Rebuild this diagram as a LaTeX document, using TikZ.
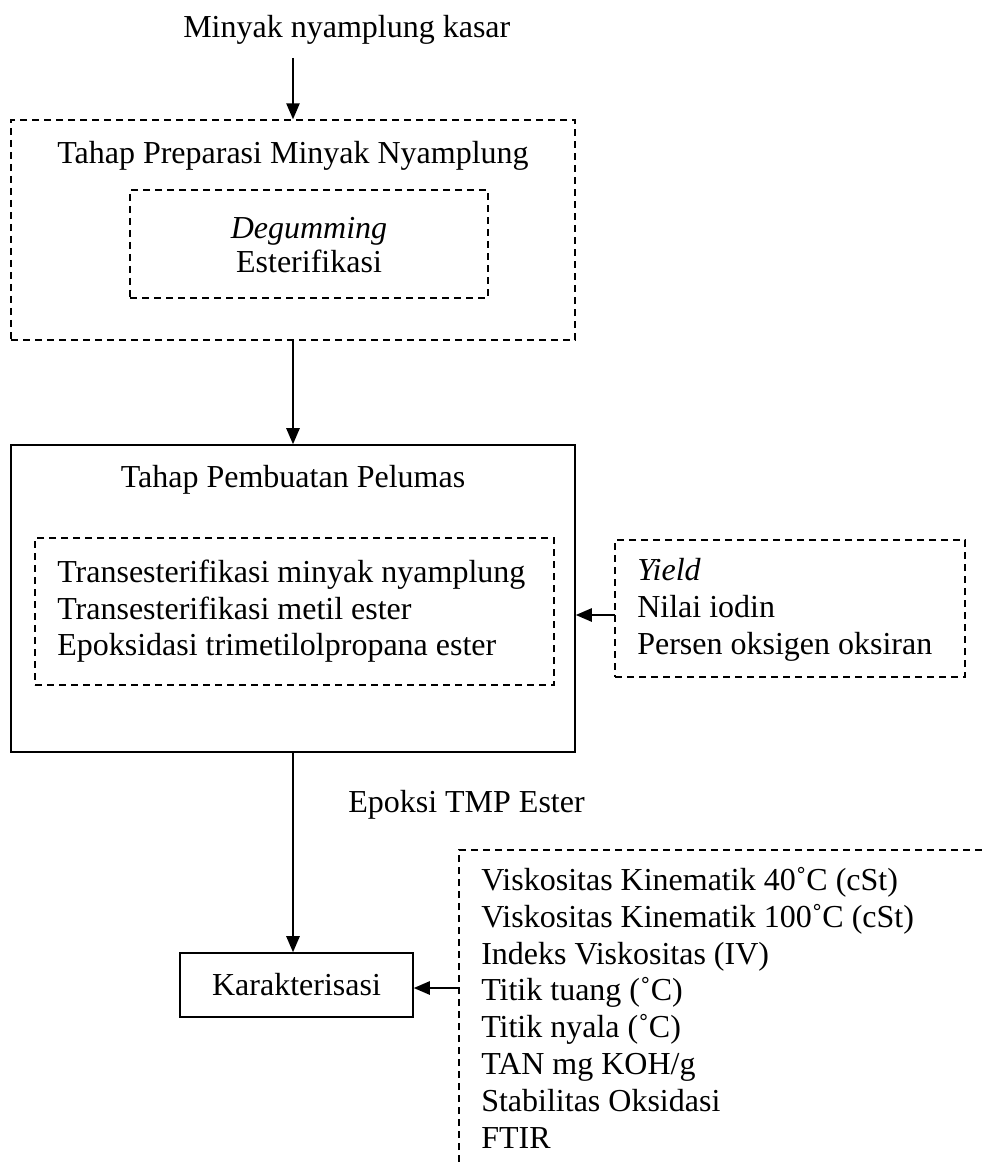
\documentclass[tikz,border=0pt]{standalone}
\usepackage{fontspec}
\setmainfont{Liberation Serif}
\usetikzlibrary{arrows.meta,fit}
\begin{document}
\begin{tikzpicture}[x=0.75pt,y=-0.75pt,
  txt/.style={inner sep=0pt,font=\fontsize{24}{27.6}\selectfont},
  solidbox/.style={draw,line width=1.2pt,inner sep=0pt},
  dashbox/.style={draw,line width=1.1pt,dash pattern=on 5.5pt off 3.5pt,inner sep=0pt},
  arr/.style={line width=1.2pt,-{Triangle[length=12pt,width=10pt]}},
  dashline/.style={line width=1.1pt,dash pattern=on 5.5pt off 3.5pt}]
\useasboundingbox (0,0) rectangle (982,1162);

% title
\node[txt,anchor=base west] (title) at (183,37.5) {Minyak nyamplung kasar};
\coordinate (a1) at (293,58);

% box A
\node[dashbox,fit={(11,120) (575,340)}] (boxA) {};
\node[txt,anchor=base] (prep) at (293,163.5) {Tahap Preparasi Minyak Nyamplung};
\node[dashbox,fit={(130,190) (488,298)}] (inA) {};
\node[txt,anchor=base] (deg) at (309,238.5) {\itshape Degumming};
\node[txt,anchor=base] (est) at (309,273) {Esterifikasi};

% box Pelumas
\node[solidbox,fit={(11,445) (575,752)}] (pel) {};
\node[txt,anchor=base] (peltitle) at (293,487.5) {Tahap Pembuatan Pelumas};
\node[dashbox,fit={(35,538) (554,685)}] (inP) {};
\node[txt,anchor=base west] (p1) at (57,582.5) {Transesterifikasi minyak nyamplung};
\node[txt,anchor=base west] (p2) at (57,619) {Transesterifikasi metil ester};
\node[txt,anchor=base west] (p3) at (57,655.5) {Epoksidasi trimetilolpropana ester};

% Yield box
\node[dashbox,fit={(615,540) (965,677)}] (yld) {};
\node[txt,anchor=base west] (y1) at (637,580) {\itshape Yield};
\node[txt,anchor=base west] (y2) at (637,617) {Nilai iodin};
\node[txt,anchor=base west] (y3) at (637,654) {Persen oksigen oksiran};
\coordinate (ya) at (615,615);

% Epoksi label
\node[txt,anchor=base west] (epo) at (348,812) {Epoksi TMP Ester};

% Karakterisasi
\node[solidbox,fit={(180,953) (413,1017)}] (kar) {};
\node[txt,anchor=base] (kart) at (296.5,995.5) {Karakterisasi};

% list box (open)
\coordinate (lb) at (459,1162);
\coordinate (ltl) at (459,850);
\coordinate (ltr) at (982,850);
\coordinate (la) at (459,988);
\draw[dashline] (lb) -- (ltl) -- (ltr);
\node[txt,anchor=base west] (l1) at (481,890.5) {Viskositas Kinematik 40˚C (cSt)};
\node[txt,anchor=base west] (l2) at (481,927.3) {Viskositas Kinematik 100˚C (cSt)};
\node[txt,anchor=base west] (l3) at (481,964.1) {Indeks Viskositas (IV)};
\node[txt,anchor=base west] (l4) at (481,1000.9) {Titik tuang (˚C)};
\node[txt,anchor=base west] (l5) at (481,1037.7) {Titik nyala (˚C)};
\node[txt,anchor=base west] (l6) at (481,1074.5) {TAN mg KOH/g};
\node[txt,anchor=base west] (l7) at (481,1111.3) {Stabilitas Oksidasi};
\node[txt,anchor=base west] (l8) at (481,1148.1) {FTIR};

% connectors
\draw[arr] (a1) -- (boxA.north);
\draw[arr] (boxA.south) -- (pel.north);
\draw[arr] (ya) -- (ya -| pel.east);
\draw[arr] (pel.south) -- (pel.south |- kar.north);
\draw[arr] (la) -- (la -| kar.east);
\end{tikzpicture}
\end{document}
